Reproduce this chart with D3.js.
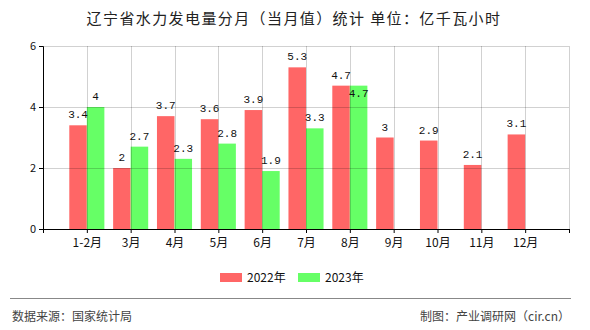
<!DOCTYPE html>
<html><head><meta charset="utf-8">
<script src="https://cdn.jsdelivr.net/npm/d3@7"></script>
<style>body{margin:0;background:#fff}svg{display:block}</style>
</head><body>
<svg id="c" width="590" height="330"></svg>
<script>
const title = "辽宁省水力发电量分月（当月值）统计 单位：亿千瓦小时";
const categories = ["1-2月","3月","4月","5月","6月","7月","8月","9月","10月","11月","12月"];
const series2022 = [3.4,2,3.7,3.6,3.9,5.3,4.7,3,2.9,2.1,3.1];
const series2023 = [4,2.7,2.3,2.8,1.9,3.3,4.7,null,null,null,null];
const seriesNames = ["2022年","2023年"];
const yTicks = [0,2,4,6];
const sourceText = "数据来源：国家统计局";
const creditText = "制图：产业调研网（cir.cn）";

const colors = ["#ff6666","#66ff66"];
const svg = d3.select("#c");
const font = "'Noto Sans CJK SC','Noto Sans',sans-serif";
const m = {l:43, r:569, t:46, b:229};

const x = d3.scaleLinear().domain([0, categories.length+1]).range([m.l, m.r]);
const y = d3.scaleLinear().domain([0,6]).range([m.b, m.t]);
const band = x(1)-x(0);
const bw = band*0.4;

// title
svg.append("text").attr("x",294).attr("y",24).attr("text-anchor","middle")
  .attr("font-family",font).attr("font-size",15).attr("letter-spacing","1.4px")
  .attr("fill","#222").text(title);

const series = [series2022, series2023];
const g = svg.append("g");
series.forEach((s,si)=>{
  s.forEach((v,i)=>{
    if(v==null) return;
    const cx = x(i+1);
    const x0 = si===0 ? cx-bw : cx;
    g.append("rect").attr("x",x0).attr("y",y(v)).attr("width",bw).attr("height",y(0)-y(v))
      .attr("fill",colors[si]);
  });
});

// grid (drawn over bars)
const grid = svg.append("g").attr("stroke","rgba(0,0,0,0.18)").attr("stroke-width",1);
yTicks.filter(t=>t>0).forEach(t=>{
  grid.append("line").attr("x1",m.l).attr("x2",m.r).attr("y1",Math.round(y(t))+0.5).attr("y2",Math.round(y(t))+0.5);
});
d3.range(1,categories.length+2).forEach(k=>{
  grid.append("line").attr("x1",Math.round(x(k))+0.5).attr("x2",Math.round(x(k))+0.5).attr("y1",m.t).attr("y2",m.b);
});

// value labels
const lab = svg.append("g").attr("font-family","'Liberation Mono','DejaVu Sans Mono',monospace")
  .attr("font-size",11).attr("text-anchor","middle").attr("fill","#111");
series.forEach((s,si)=>{
  s.forEach((v,i)=>{
    if(v==null) return;
    const cx = x(i+1) + (si===0 ? -bw/2 : bw/2);
    // when the neighbouring label sits at the same height, drop this one inside the bar top
    const clash = si===1 && series2022[i]!=null && Math.abs(y(series2022[i])-y(v))<12;
    lab.append("text").attr("x",cx).attr("y",clash ? y(v)+11 : y(v)-7).text(String(v));
  });
});

// axes
const xAxis = d3.axisBottom(x).tickValues(d3.range(0,categories.length+2)).tickSize(4)
  .tickFormat(d=> (d>=1 && d<=categories.length) ? categories[d-1] : "");
const xa = svg.append("g").attr("transform",`translate(0,${m.b})`).call(xAxis);
xa.select(".domain").attr("stroke","#000");
xa.selectAll(".tick line").attr("stroke","#000");
xa.selectAll("text").attr("font-family",font).attr("font-size",12).attr("fill","#111").attr("dy","0.95em");

const yAxis = d3.axisLeft(y).tickValues(yTicks).tickSize(4).tickFormat(d3.format("d"));
const ya = svg.append("g").attr("transform",`translate(${m.l},0)`).call(yAxis);
ya.select(".domain").attr("stroke","#000");
ya.selectAll(".tick line").attr("stroke","#000");
ya.selectAll("text").attr("font-family",font).attr("font-size",11).attr("fill","#111");

// legend
const lg = svg.append("g");
const lx = [220, 298];
seriesNames.forEach((n,i)=>{
  lg.append("rect").attr("x",lx[i]).attr("y",273).attr("width",22).attr("height",9).attr("fill",colors[i]);
  lg.append("text").attr("x",lx[i]+27).attr("y",282).attr("font-family",font).attr("font-size",12)
    .attr("fill","#111").text(n);
});

// footer
svg.append("line").attr("x1",10).attr("x2",571).attr("y1",298.5).attr("y2",298.5).attr("stroke","#888").attr("stroke-width",1);
svg.append("text").attr("x",12).attr("y",321).attr("font-family",font).attr("font-size",12).attr("fill","#444").text(sourceText);
svg.append("text").attr("x",570).attr("y",321).attr("text-anchor","end").attr("font-family",font).attr("font-size",12).attr("fill","#444").text(creditText);
</script>
</body></html>
